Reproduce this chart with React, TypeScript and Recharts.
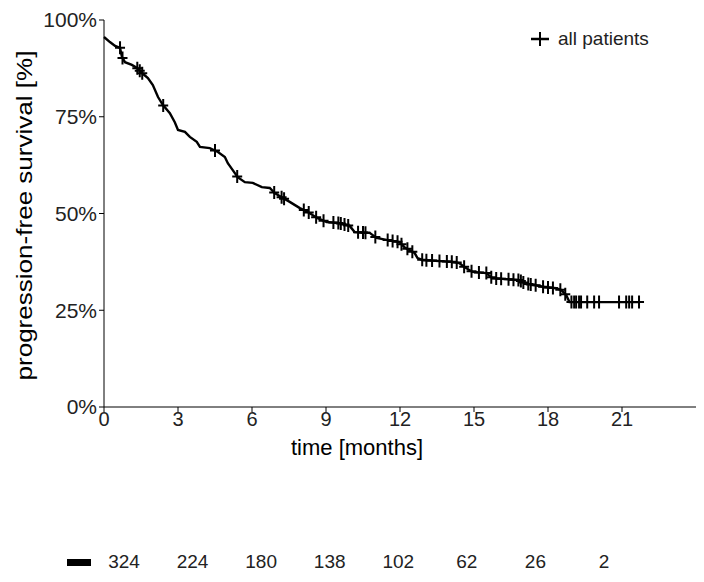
import React from "react";
import {
  ComposedChart,
  Legend,
  Line,
  Scatter,
  XAxis,
  YAxis,
} from "recharts";

// Kaplan-Meier curve (months, % progression-free)
const curveTimes = [
  0, 0.24, 0.45, 0.65, 0.73, 0.85, 1.13, 1.34, 1.54, 1.78, 1.98, 2.19, 2.39,
  2.67, 2.87, 3.0, 3.28, 3.48, 3.76, 3.89, 4.29, 4.62, 4.9, 5.02, 5.22, 5.42,
  5.71, 6.03, 6.4, 6.72, 6.92, 7.25, 7.53, 7.94, 8.26, 8.66, 9.03, 9.55, 9.96,
  10.16, 10.77, 11.05, 11.45, 11.98, 12.18, 12.59, 12.71, 12.91, 14.12, 14.4,
  14.61, 14.94, 15.5, 15.74, 16.84, 17.04, 17.85, 18.33, 18.54, 18.74, 18.87,
  21.7,
];
const curveSurvival = [
  95.6, 94.3, 93.3, 92.8, 90.4, 89.1, 88.4, 87.6, 86.3, 85.0, 83.2, 80.1, 78.0,
  75.9, 73.6, 71.6, 71.1, 69.8, 68.5, 67.2, 66.9, 65.9, 64.6, 63.0, 61.2, 59.4,
  58.1, 57.9, 56.8, 56.6, 55.3, 54.0, 53.0, 51.4, 50.4, 48.8, 47.8, 47.5, 46.8,
  45.2, 45.0, 43.7, 43.2, 42.6, 41.3, 39.8, 38.5, 38.0, 37.5, 37.2, 36.2, 34.9,
  34.6, 33.3, 32.8, 32.0, 31.0, 30.7, 30.2, 28.9, 27.1, 27.1,
];

// censored observations (months)
const censorTimes = [
  0.65, 0.75, 1.35, 1.45, 1.55, 2.4, 4.5, 5.4, 6.9, 7.2, 7.3, 8.1, 8.3, 8.6,
  8.9, 9.3, 9.5, 9.6, 9.75, 9.9, 10.3, 10.5, 10.6, 11.0, 11.5, 11.7, 11.9,
  12.06, 12.3, 12.5, 12.9, 13.07, 13.3, 13.6, 13.9, 14.1, 14.3, 14.6, 14.9,
  15.2, 15.5, 15.7, 15.9, 16.1, 16.4, 16.6, 16.8, 16.9, 17.0, 17.2, 17.3, 17.5,
  17.8, 18.0, 18.2, 18.5, 18.7, 18.95, 19.06, 19.14, 19.26, 19.34, 19.59,
  19.87, 20.07, 20.88, 21.17, 21.29, 21.41, 21.69,
];

const xTicks = [0, 3, 6, 9, 12, 15, 18, 21];
const yTicks = [0, 25, 50, 75, 100];
const riskTimes = [0, 3, 6, 9, 12, 15, 18, 21];
const riskCounts = [324, 224, 180, 138, 102, 62, 26, 2];

const FONT = "'Liberation Sans', Arial, sans-serif";

const curve = curveTimes.map((t, i) => ({ t, s: curveSurvival[i] }));

// place each censor mark on the curve (linear between read points)
const survivalAt = (t: number) => {
  for (let i = 1; i < curve.length; i++) {
    const a = curve[i - 1];
    const b = curve[i];
    if (t <= b.t) return a.s + ((b.s - a.s) * (t - a.t)) / (b.t - a.t);
  }
  return curve[curve.length - 1].s;
};
const censored = censorTimes.map((t) => ({ t, s: survivalAt(t) }));
const risk = riskTimes.map((t, i) => ({ t, n: riskCounts[i] }));

const Plus = (props: any) => {
  const { cx, cy } = props;
  return (
    <path
      d={`M${cx - 5},${cy}H${cx + 5}M${cx},${cy - 6.5}V${cy + 6.5}`}
      stroke="#000"
      strokeWidth={2}
      fill="none"
    />
  );
};

const YTitle = (props: any) => {
  const { viewBox } = props;
  return (
    <text
      transform={`translate(${viewBox.x + 24},${viewBox.y + viewBox.height / 2 + 2}) rotate(-90)`}
      textAnchor="middle"
      dominantBaseline="central"
      fontSize={22}
      textLength={330}
      lengthAdjust="spacingAndGlyphs"
      fontFamily={FONT}
      fill="#000"
    >
      progression-free survival [%]
    </text>
  );
};

const XTitle = (props: any) => {
  const { viewBox } = props;
  return (
    <text
      x={viewBox.x + 253}
      y={viewBox.y + 40}
      textAnchor="middle"
      dominantBaseline="central"
      fontSize={22}
      fontFamily={FONT}
      fill="#000"
    >
      time [months]
    </text>
  );
};

const LegendBox = () => (
  <div style={{ display: "flex", alignItems: "center", fontFamily: FONT }}>
    <svg width={20} height={16}>
      <path d="M1,8H19" stroke="#000" strokeWidth={2.5} />
      <path d="M10,1V15" stroke="#000" strokeWidth={2} />
    </svg>
    <span style={{ marginLeft: 8, fontSize: 19, color: "#222" }}>
      all patients
    </span>
  </div>
);

export default function App() {
  return (
    <div
      style={{
        position: "absolute",
        left: 0,
        top: 0,
        width: 704,
        height: 582,
        background: "#fff",
      }}
    >
      <ComposedChart
        width={704}
        height={470}
        margin={{ top: 20, right: 8, left: 0, bottom: 0 }}
      >
        <XAxis
          type="number"
          dataKey="t"
          domain={[0, 24]}
          ticks={xTicks}
          tickSize={5}
          tickMargin={0}
          height={63}
          axisLine={{ stroke: "#000" }}
          tickLine={{ stroke: "#000" }}
          tick={{ fontSize: 20, fill: "#222", fontFamily: FONT }}
          label={<XTitle />}
        />
        <YAxis
          type="number"
          dataKey="s"
          domain={[0, 100]}
          ticks={yTicks}
          tickFormatter={(v) => `${v}%`}
          tickSize={5}
          width={104}
          axisLine={{ stroke: "#000" }}
          tickLine={{ stroke: "#000" }}
          tick={{ fontSize: 21, fill: "#222", fontFamily: FONT }}
          label={<YTitle />}
        />
        <Line
          data={curve}
          dataKey="s"
          type="linear"
          stroke="#000"
          strokeWidth={2.4}
          dot={false}
          isAnimationActive={false}
        />
        <Scatter
          data={censored}
          dataKey="s"
          shape={<Plus />}
          isAnimationActive={false}
        />
        <Legend
          layout="horizontal"
          align="center"
          verticalAlign="middle"
          content={<LegendBox />}
          wrapperStyle={{ top: 28, left: 530, width: 150 }}
        />
      </ComposedChart>

      <div
        style={{
          position: "absolute",
          left: 67,
          top: 559,
          width: 24,
          height: 7,
          background: "#000",
        }}
      />
      <div style={{ position: "absolute", left: 0, top: 527 }}>
        <ComposedChart
          width={704}
          height={50}
          data={risk}
          margin={{ top: 0, right: 100, left: 124, bottom: 0 }}
        >
          <XAxis
            type="number"
            dataKey="t"
            domain={[0, 21]}
            ticks={riskTimes}
            axisLine={false}
            tickLine={false}
            height={30}
            tickFormatter={(v) => String(riskCounts[riskTimes.indexOf(v)])}
            tick={{ fontSize: 19, fill: "#222", fontFamily: FONT }}
          />
          <YAxis hide dataKey="n" />
          <Line
            dataKey="n"
            stroke="none"
            dot={false}
            isAnimationActive={false}
          />
        </ComposedChart>
      </div>
    </div>
  );
}
